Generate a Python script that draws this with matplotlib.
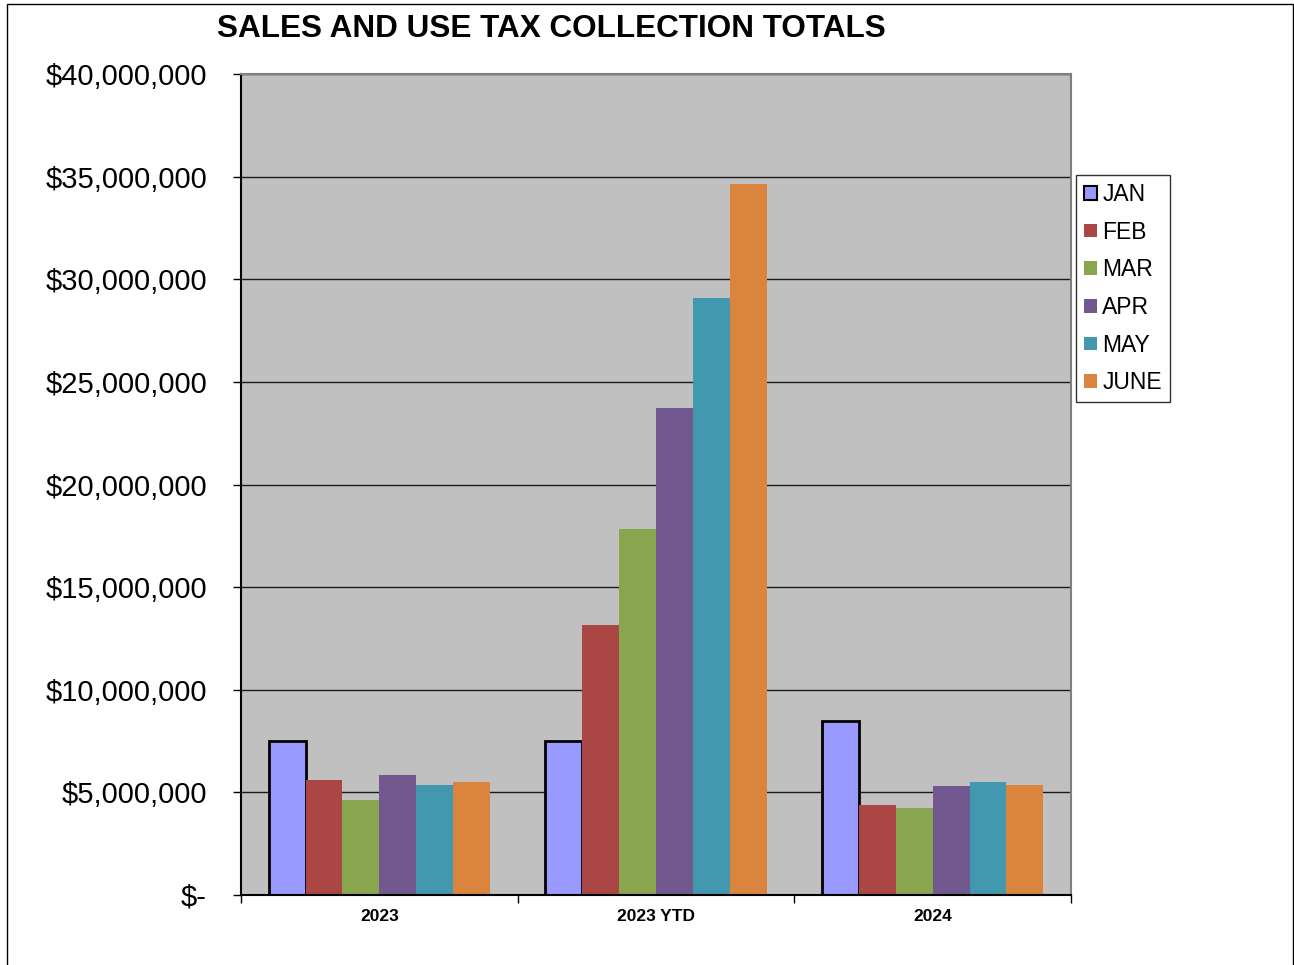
import matplotlib
matplotlib.use("Agg")
import matplotlib.pyplot as plt
from matplotlib.patches import Rectangle, Patch
from matplotlib.ticker import FuncFormatter, FixedLocator
import numpy as np

plt.rcParams['font.family'] = ['Liberation Sans', 'DejaVu Sans']

categories = ["2023", "2023 YTD", "2024"]
months = ["JAN", "FEB", "MAR", "APR", "MAY", "JUNE"]
colors = ["#9999FF", "#AA4643", "#89A54E", "#71588F", "#4198AF", "#DB843D"]
# values in dollars, per month, for each category
jan = [7520000, 7520000, 8490000]
feb = [5620000, 13170000, 4400000]
mar = [4640000, 17820000, 4240000]
apr = [5860000, 23730000, 5290000]
may = [5360000, 29110000, 5510000]
june = [5520000, 34660000, 5340000]
series = [jan, feb, mar, apr, may, june]
yticks = [0, 5000000, 10000000, 15000000, 20000000, 25000000, 30000000, 35000000, 40000000]

W, H = 1294, 965
fig = plt.figure(figsize=(W / 100, H / 100), dpi=100)
fig.patches.append(Rectangle((7 / W, -0.01), (1293 - 7) / W, 1 - 4 / H + 0.01,
                             transform=fig.transFigure, fill=False,
                             edgecolor="black", linewidth=1, zorder=0))

ax = fig.add_axes([241 / W, 1 - 895 / H, (1071 - 241) / W, (895 - 74) / H])
ax.set_facecolor("#C0C0C0")

x = np.arange(len(categories))
bw = 0.8 / len(months)
for i, (m, vals, c) in enumerate(zip(months, series, colors)):
    pos = x - 0.4 + bw * (i + 0.5)
    if i == 0:
        ax.bar(pos, vals, width=bw, color=c, edgecolor="black", linewidth=2, zorder=3)
    else:
        ax.bar(pos, vals, width=bw, color=c, edgecolor="none", linewidth=0, zorder=3)

ax.set_xlim(-0.5, len(categories) - 0.5)
ax.set_ylim(0, 40000000)
ax.set_yticks(yticks)

def fmt(v, p):
    if v == 0:
        return "$-"
    return "${:,.0f}".format(v)

ax.yaxis.set_major_formatter(FuncFormatter(fmt))
ax.tick_params(axis="y", labelsize=21, length=6, width=1, pad=18.5, direction="out", color="black")
ax.grid(axis="y", color="#1a1a1a", linewidth=1, zorder=1)
ax.set_axisbelow(True)

ax.xaxis.set_major_locator(FixedLocator(np.arange(-0.5, len(categories), 1.0)))
ax.set_xticklabels([""] * (len(categories) + 1))
ax.xaxis.set_minor_locator(FixedLocator(x))
ax.set_xticklabels(categories, minor=True, fontsize=12.5, fontweight="bold")
ax.tick_params(axis="x", which="major", length=6, width=1, direction="out", color="black")
ax.tick_params(axis="x", which="minor", length=0, pad=10)

ax.spines["left"].set_color("black")
ax.spines["bottom"].set_color("black")
ax.spines["top"].set_color("#808080")
ax.spines["right"].set_color("#808080")
for s in ax.spines.values():
    s.set_linewidth(1.5)
ax.spines["bottom"].set_zorder(4)

fig.text(551 / W, 1 - 29 / H, "SALES AND USE TAX COLLECTION TOTALS", ha="center", va="center",
         fontsize=22.7, fontweight="bold")

handles = []
for i, (m, c) in enumerate(zip(months, colors)):
    if i == 0:
        handles.append(Patch(facecolor=c, edgecolor="black", linewidth=1.5, label=m))
    else:
        handles.append(Patch(facecolor=c, edgecolor="none", label=m))
leg = fig.legend(handles=handles, loc="upper left", bbox_to_anchor=(1076 / W, 1 - 175 / H),
                 fontsize=16.5, frameon=True, fancybox=False, handlelength=0.55, handleheight=0.55,
                 handletextpad=0.25, labelspacing=0.64, borderpad=0.35, borderaxespad=0)
leg.get_frame().set_edgecolor("black")
leg.get_frame().set_linewidth(1)

fig.savefig("out.png", dpi=100)
